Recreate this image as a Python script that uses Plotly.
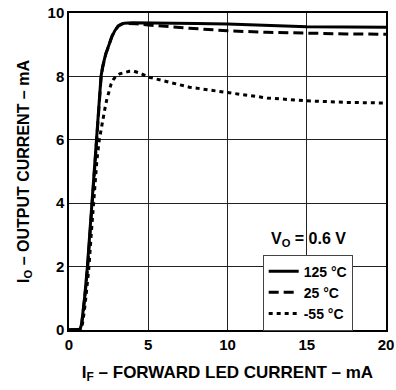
import plotly.graph_objects as go

# Data
x_125 = [0, 0.6, 0.7, 0.8, 0.9, 1.0, 1.16, 1.3, 1.43, 1.64, 1.75, 1.88, 2.02, 2.12, 2.22, 2.32, 2.42, 2.55, 2.7, 2.9, 3.1, 3.3, 3.5, 4.0, 4.5, 6, 8, 10, 12.5, 15, 17.5, 20]
y_125 = [0, 0, 0.02, 0.2, 0.63, 1.1, 2.0, 3.0, 4.0, 5.36, 6.0, 7.0, 8.0, 8.3, 8.55, 8.72, 8.85, 9.05, 9.25, 9.45, 9.58, 9.64, 9.68, 9.69, 9.69, 9.68, 9.67, 9.65, 9.6, 9.57, 9.56, 9.55]

x_25 = [0, 0.6, 0.7, 0.8, 0.9, 1.0, 1.18, 1.32, 1.45, 1.66, 1.77, 1.9, 2.03, 2.13, 2.23, 2.33, 2.43, 2.56, 2.72, 2.92, 3.1, 3.3, 3.5, 4.2, 5, 7.6, 10, 12.5, 15, 17.5, 20]
y_25 = [0, 0, 0.02, 0.18, 0.6, 1.05, 2.0, 3.0, 4.0, 5.36, 6.0, 7.0, 8.0, 8.3, 8.55, 8.72, 8.86, 9.07, 9.28, 9.47, 9.59, 9.65, 9.68, 9.66, 9.62, 9.52, 9.44, 9.39, 9.36, 9.34, 9.33]

x_m55 = [0, 0.65, 0.75, 0.85, 0.97, 1.1, 1.26, 1.4, 1.55, 1.76, 1.91, 2.05, 2.17, 2.28, 2.38, 2.5, 2.65, 2.8, 2.95, 3.2, 3.5, 3.8, 4.05, 4.5, 5, 6, 7.6, 10, 12.5, 15, 17.5, 20]
y_m55 = [0, 0, 0.02, 0.2, 0.6, 1.2, 2.0, 3.0, 4.0, 5.36, 6.0, 6.42, 6.73, 7.02, 7.26, 7.5, 7.75, 7.9, 8.0, 8.08, 8.13, 8.16, 8.17, 8.1, 7.98, 7.85, 7.66, 7.49, 7.32, 7.23, 7.18, 7.16]

x_ticks = [0, 5, 10, 15, 20]
y_ticks = [0, 2, 4, 6, 8, 10]

FONT = "Liberation Sans, Arial, Helvetica, sans-serif"

fig = go.Figure()
fig.add_trace(go.Scatter(x=x_125, y=y_125, mode="lines", name="125 °C",
                         line=dict(color="black", width=3)))
fig.add_trace(go.Scatter(x=x_25, y=y_25, mode="lines", name="25 °C",
                         line=dict(color="black", width=3, dash="10px,5px")))
fig.add_trace(go.Scatter(x=x_m55, y=y_m55, mode="lines", name="-55 °C",
                         line=dict(color="black", width=3, dash="4px,4px")))

axis_common = dict(
    showgrid=True, gridcolor="#222", gridwidth=1.2,
    showline=True, linecolor="black", linewidth=1.5, mirror=True,
    zeroline=False, ticks="", automargin=False,
    tickfont=dict(family=FONT, size=15, color="black", weight="bold"),
)

fig.update_xaxes(range=[0, 20], tickvals=x_ticks, ticktext=[str(v) for v in x_ticks],
                 title=dict(text="I<sub>F</sub> – FORWARD LED CURRENT – mA", standoff=14,
                            font=dict(family=FONT, size=17, color="black", weight="bold")),
                 **axis_common)
fig.update_yaxes(range=[0, 10], tickvals=y_ticks, ticktext=[str(v) for v in y_ticks],
                 title=dict(text="I<sub>O</sub> – OUTPUT CURRENT – mA", standoff=14,
                            font=dict(family=FONT, size=16, color="black", weight="bold")),
                 **axis_common)

fig.add_annotation(x=0.754, y=0.285, xref="paper", yref="paper", showarrow=False,
                   xanchor="center", yanchor="middle",
                   text="V<sub>O</sub> = 0.6 V",
                   font=dict(family=FONT, size=16, color="black", weight="bold"))

fig.update_layout(
    width=396, height=390,
    margin=dict(l=69, r=10, t=13, b=60),
    paper_bgcolor="white", plot_bgcolor="white",
    showlegend=True,
    legend=dict(x=0.611, y=0.238, xanchor="left", yanchor="top",
                bgcolor="white", bordercolor="#444", borderwidth=1,
                font=dict(family=FONT, size=14, color="black", weight="bold"),
                tracegroupgap=0, itemwidth=30),
)

fig.write_html("out.html")
